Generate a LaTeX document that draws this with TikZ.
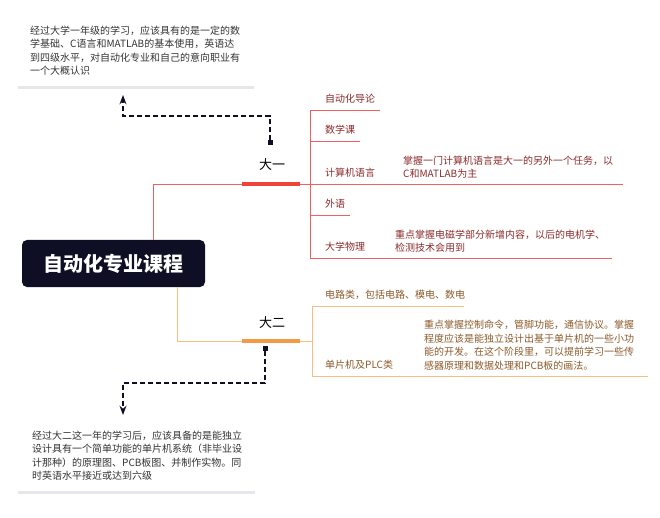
\documentclass[tikz,border=0pt]{standalone}
\usepackage{fontspec}
\setmainfont{Noto Sans CJK SC}
\usetikzlibrary{positioning,arrows.meta}
\definecolor{navy}{HTML}{0E0E24}
\definecolor{redline}{HTML}{F06060}
\definecolor{redbar}{HTML}{F0443A}
\definecolor{redtext}{HTML}{8A2A2A}
\definecolor{orline}{HTML}{F7BE80}
\definecolor{orbar}{HTML}{F39A45}
\definecolor{ortext}{HTML}{8A5A2A}
\definecolor{graybar}{HTML}{E6E7EA}
\begin{document}
\begin{tikzpicture}[x=1pt, y=-1pt, >=Stealth,
    every node/.style={inner sep=0pt},
    leaf/.style={anchor=west, font=\fontsize{10}{13}\selectfont},
    desc/.style={anchor=west, align=left, font=\fontsize{10}{13.5}\selectfont},
    note/.style={anchor=north west, align=left, text=black!80, font=\fontsize{10}{13.3}\selectfont},
    year/.style={font=\fontsize{13}{15}\selectfont},
    dashlink/.style={navy, line width=1.4pt, dash pattern=on 5pt off 3pt}]
    \useasboundingbox (0,0) rectangle (660,518);

    % root
    \node [fill=navy, rounded corners=5pt, minimum width=183pt, minimum height=47pt,
           text=white, font=\fontsize{20}{22}\bfseries\selectfont] (root) at (113.5,263.5) {自动化专业课程};

    % first year
    \node [year] (y1) at (272,165) {大一};
    \coordinate (y1a) at (153,240);
    \coordinate (y1b) at (310,184);
    \draw [redline, thick] (y1a) |- (y1b);
    \draw [redbar, line width=3.5pt] (242,184) -- (300,184);
    \foreach \t/\y/\e [count=\i] in {自动化导论/110/380, 数学课/141/360, 计算机语言/184/623, 外语/215/350, 大学物理/258/612}
    {
      \node [leaf, text=redtext] (c1-\i) at (325,\y-11) {\t};
      \coordinate (e1-\i) at (\e,\y);
      \draw [redline] (310,\y) -- (e1-\i);
    }
    \draw [redline] (310,110) -- (310,258);
    \node [desc, text=redtext] (d1-3) at (403,167) {掌握一门计算机语言是大一的另外一个任务，以\\C和MATLAB为主};
    \node [desc, text=redtext] (d1-5) at (395,241) {重点掌握电磁学部分新增内容，以后的电机学、\\检测技术会用到};

    % second year
    \node [year] (y2) at (272,323) {大二};
    \coordinate (y2a) at (177,287);
    \coordinate (y2b) at (312,341);
    \draw [orline, thick] (y2a) |- (y2b);
    \draw [orbar, line width=3.5pt] (242,341) -- (300,341);
    \foreach \t/\y/\e [count=\i] in {{电路类，包括电路、模电、数电}/306/464, 单片机及PLC类/376/648}
    {
      \node [leaf, text=ortext] (c2-\i) at (325,\y-11) {\t};
      \coordinate (e2-\i) at (\e,\y);
      \draw [orline, thick] (312,\y) -- (e2-\i);
    }
    \draw [orline, thick] (312,306) -- (312,376);
    \node [desc, text=ortext] (d2-2) at (424,345) {重点掌握控制命令，管脚功能，通信协议。掌握\\程度应该是能独立设计出基于单片机的一些小功\\能的开发。在这个阶段里，可以提前学习一些传\\感器原理和数据处理和PCB板的画法。};

    % notes
    \node [note] (n1) at (30,26) {经过大学一年级的学习，应该具有的是一定的数\\学基础、C语言和MATLAB的基本使用，英语达\\到四级水平，对自动化专业和自己的意向职业有\\一个大概认识};
    \draw [graybar, line width=3pt] (18,88) -- (254,88);
    \node [note] (n2) at (32,431) {经过大二这一年的学习后，应该具备的是能独立\\设计具有一个简单功能的单片机系统（非毕业设\\计那种）的原理图、PCB板图、并制作实物。同\\时英语水平接近或达到六级};
    \draw [graybar, line width=3pt] (18,492) -- (255,492);

    % dashed links
    \node [fill=navy, minimum size=5pt] (m1) at (270,143) {};
    \coordinate (t1) at (123,95);
    \draw [dashlink, ->] (m1) -- (270,116) -| (t1);
    \node [fill=navy, minimum size=5pt] (m2) at (265,348) {};
    \coordinate (t2) at (123,415);
    \draw [dashlink, ->] (m2) -- (265,383) -| (t2);
\end{tikzpicture}
\end{document}
